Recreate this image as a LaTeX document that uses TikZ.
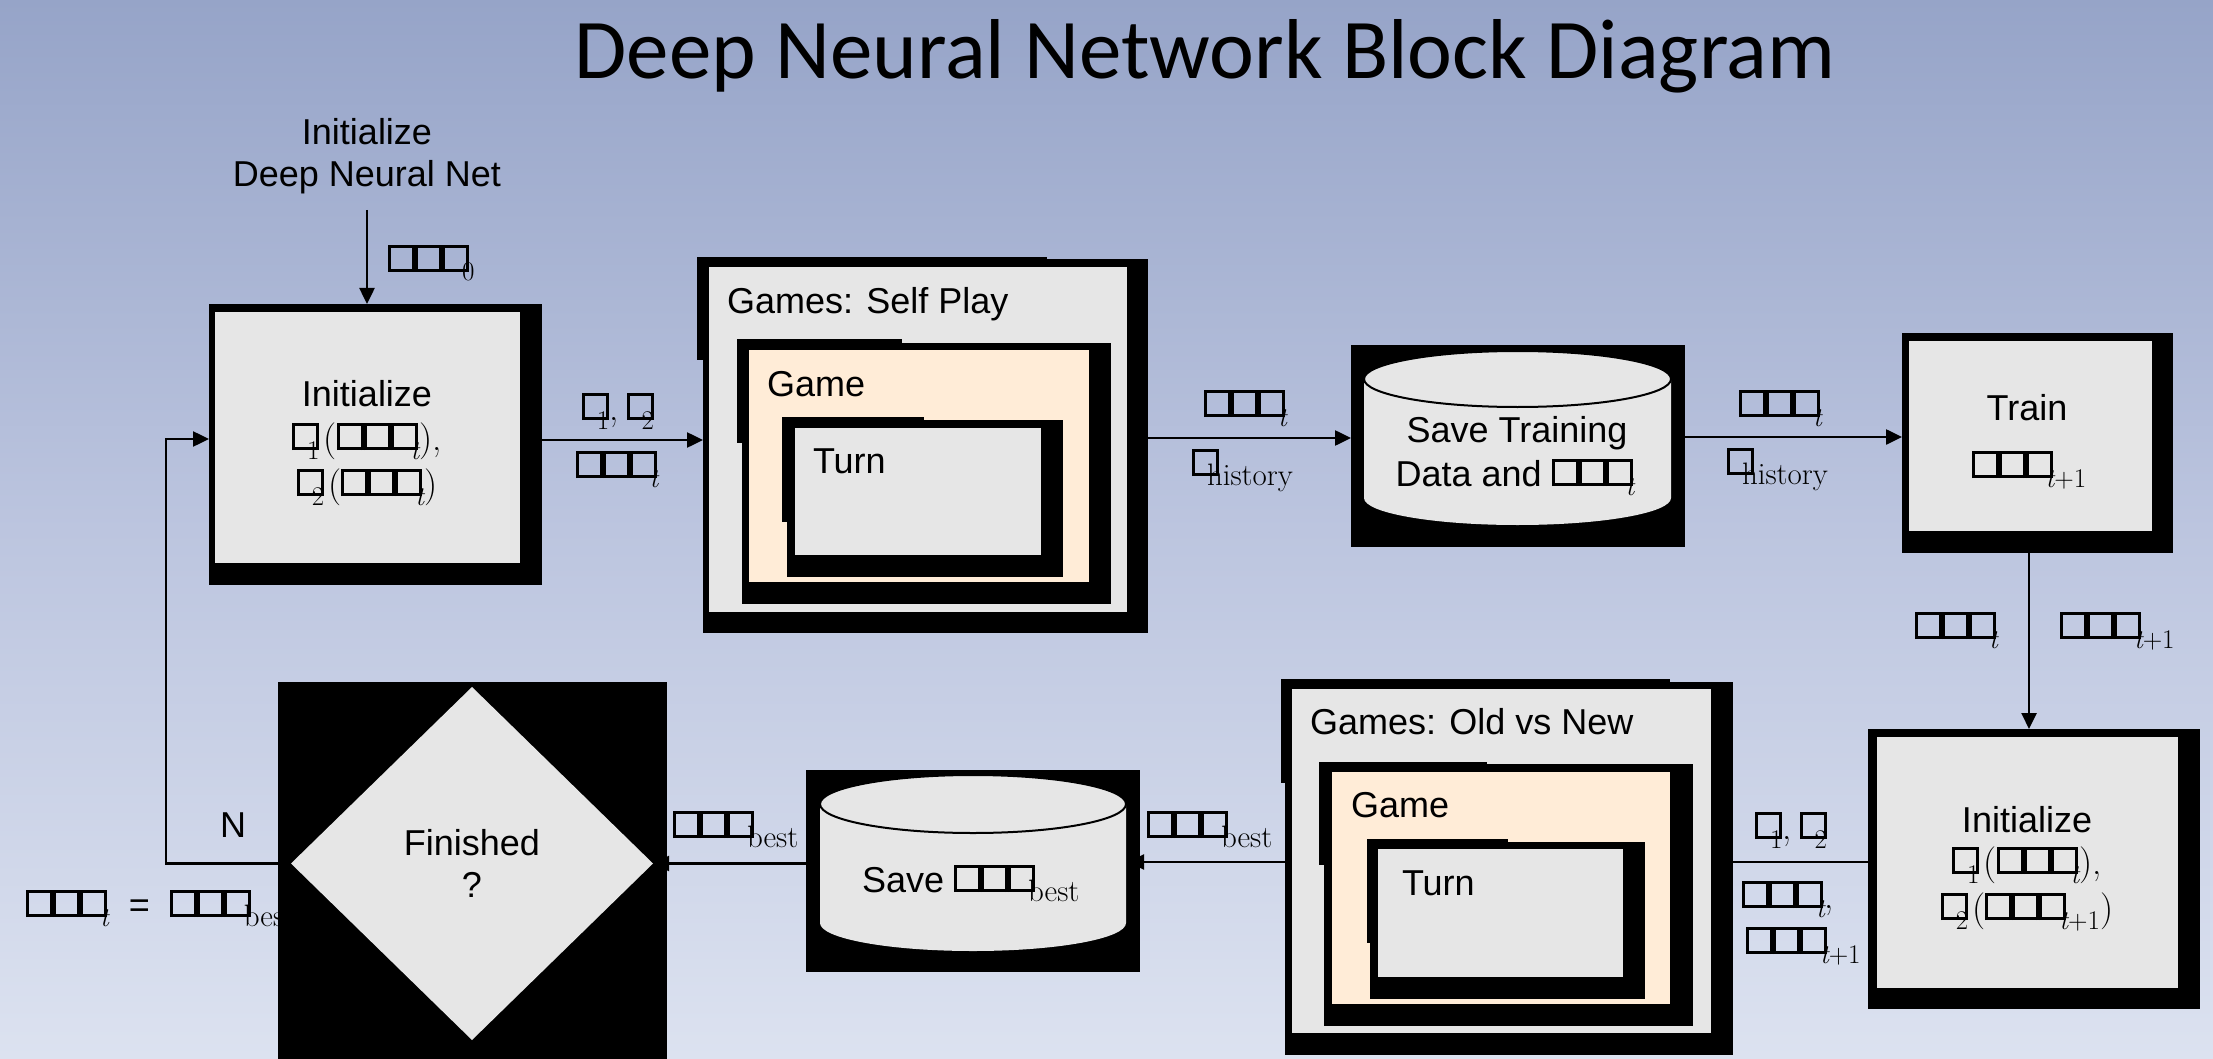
\documentclass[tikz,border=0pt]{standalone}
\usepackage{fontspec}
\usetikzlibrary{arrows.meta,shapes.geometric}
\newfontfamily\bodyfont{Liberation Sans}
\newfontfamily\titlefont{Carlito}
\definecolor{bgtop}{RGB}{150,164,200}
\definecolor{bgmid}{RGB}{188,197,223}
\definecolor{bgbot}{RGB}{220,226,240}
\definecolor{boxgray}{RGB}{230,230,230}
\definecolor{peach}{RGB}{255,236,215}

% empty glyph boxes and their subscripts
\newcommand\tfbox{\hbox{\vrule width 3pt\vbox{\hrule height 3pt\hbox to 21pt{\vrule width 0pt height 21pt\hfil}\hrule height 3pt}\vrule width 3pt}}
\newcommand\tfrow{\tfbox\tfbox\tfbox}
\newcommand\subx[2][-9pt]{\kern#1\raisebox{-9pt}{\rmfamily\fontsize{27}{28}\selectfont #2}}
\newcommand\wsub[2][-9pt]{\kern#1\raisebox{-9pt}{\rmfamily\fontsize{31}{32}\selectfont #2}}
\newcommand\tsub{\subx[-7pt]{\itshape t}}
\newcommand\tpsub{\subx[-7pt]{\itshape t\upshape +1}}
\newcommand\serifpart[1]{{\rmfamily\fontsize{37}{40}\selectfont #1}}

% filled rectangle node from corner coordinates
\newcommand\blocknode[6]{\node[fill=#6, inner sep=0pt, outer sep=0pt,
  minimum width={(#4)-(#2)}, minimum height={(#5)-(#3)}] (#1)
  at ({((#2)+(#4))/2},{((#3)+(#5))/2}) {};}

\tikzset{
  lbl/.style={font=\bodyfont\fontsize{36}{40}\selectfont, inner sep=0pt, outer sep=0pt, anchor=base},
  lblw/.style={lbl, anchor=base west},
  arr/.style={line width=2.5pt, -{Triangle[length=16pt,width=15pt]}},
  rim/.style={line width=2pt, draw=black},
}

\begin{document}
\begin{tikzpicture}[x=1pt,y=-1pt]
% background
\shade[top color=bgtop, bottom color=bgbot, middle color=bgmid] (0,0) rectangle (2213,1059);
\useasboundingbox (0,0) rectangle (2213,1059);

% title
\node[font=\titlefont\fontsize{85}{90}\selectfont, inner sep=0pt, anchor=base] (title) at (1205,79) {Deep Neural Network Block Diagram};

% starting label
\node[lbl] (initA) at (367,145) {Initialize};
\node[lbl] (initB) at (367,187) {Deep Neural Net};
\coordinate (initsrc) at (367,210);
\node[lblw] (lab0) at (388,272) {\tfrow\subx[-7pt]{0}};

% equality label, partly hidden by the decision block
\node[lblw] (labeq) at (26,917) {\tfrow\tsub\ \ =\ \ \tfrow\wsub[-7pt]{best}};

% ---- initialize block (top left)
\blocknode{b1}{209}{304}{542}{585}{black}
\fill[boxgray] (215,312) rectangle (520,563);
\node[lbl] (b1a) at (367,406) {Initialize};
\node[lbl] (b1b) at (367,450) {\tfbox\subx[-12pt]{1}\kern4pt\serifpart{(}\tfrow\tsub\serifpart{),}};
\node[lbl] (b1c) at (367,496) {\tfbox\subx[-12pt]{2}\kern4pt\serifpart{(}\tfrow\tsub\serifpart{)}};

% ---- games: self play
\fill (697,257) rectangle (1047,360);
\blocknode{g1}{703}{259}{1148}{633}{black}
\fill[boxgray] (709,267) rectangle (1127,612);
\fill (737,339) rectangle (902,443);
\blocknode{g1game}{742}{343}{1111}{604}{black}
\fill[peach] (749,350) rectangle (1089,582);
\fill (782,417) rectangle (924,522);
\blocknode{g1turn}{787}{420}{1063}{577}{black}
\fill[boxgray] (795,428) rectangle (1041,555);
\node[lblw] (g1t) at (727,313) {Games: Self Play};
\node[lblw] (g1gt) at (767,396) {Game};
\node[lblw] (g1tt) at (813,473) {Turn};

% ---- save training data
\blocknode{c1}{1351}{345}{1685}{547}{black}
\fill[boxgray] (1364,379) -- (1364,498)
  arc[start angle=180, end angle=360, x radius=153.5pt, y radius=27pt]
  -- (1671,379)
  arc[start angle=0, end angle=180, x radius=153.5pt, y radius=28pt] -- cycle;
\draw[rim] (1517.5,379) ellipse [x radius=153.5pt, y radius=28pt];
\node[lbl] (c1a) at (1517,442) {Save Training};
\node[lbl] (c1b) at (1515,486) {Data and \tfrow\tsub};

% ---- train
\blocknode{tr}{1902}{333}{2173}{553}{black}
\fill[boxgray] (1909,341) rectangle (2152,531);
\node[lbl] (tra) at (2027,420) {Train};
\node[lbl] (trb) at (2029,478) {\tfrow\tpsub};

% ---- initialize block (bottom right)
\blocknode{i2}{1868}{729}{2200}{1009}{black}
\fill[boxgray] (1877,737) rectangle (2178,988);
\node[lbl] (i2a) at (2027,832) {Initialize};
\node[lbl] (i2b) at (2027,874) {\tfbox\subx[-12pt]{1}\kern4pt\serifpart{(}\tfrow\tsub\serifpart{),}};
\node[lbl] (i2c) at (2027,920) {\tfbox\subx[-12pt]{2}\kern4pt\serifpart{(}\tfrow\tpsub\serifpart{)}};

% ---- games: old vs new
\fill (1281,679) rectangle (1670,783);
\blocknode{g2}{1285}{682}{1733}{1055}{black}
\fill[boxgray] (1292,689) rectangle (1711,1033);
\fill (1319,762) rectangle (1487,865);
\blocknode{g2game}{1324}{764}{1693}{1026}{black}
\fill[peach] (1332,772) rectangle (1670,1004);
\fill (1367,839) rectangle (1508,943);
\blocknode{g2turn}{1370}{842}{1645}{999}{black}
\fill[boxgray] (1378,849) rectangle (1623,977);
\node[lblw] (g2t) at (1310,734) {Games: Old vs New};
\node[lblw] (g2gt) at (1351,817) {Game};
\node[lblw] (g2tt) at (1402,895) {Turn};

% ---- save best
\blocknode{c2}{806}{770}{1140}{972}{black}
\fill[boxgray] (820,804) -- (820,923)
  arc[start angle=180, end angle=360, x radius=153pt, y radius=28pt]
  -- (1126,804)
  arc[start angle=0, end angle=180, x radius=153pt, y radius=29pt] -- cycle;
\draw[rim] (973,804) ellipse [x radius=153pt, y radius=29pt];
\node[lblw] (c2a) at (862,892) {Save \tfrow\wsub[-7pt]{best}};

% ---- decision
\blocknode{dbox}{278}{682}{667}{1062}{black}
\node[diamond, fill=boxgray, inner sep=0pt, outer sep=0pt, minimum width=362pt, minimum height=353pt] (dia) at (472,863.5) {};
\node[lbl] (diaa) at (472,855) {Finished};
\node[lbl] (diab) at (472,897) {?};

% ---- connectors
\draw[arr] (initsrc) -- (initsrc |- b1.north);
\draw[arr] (b1.east |- 0,440) -- (g1.west |- 0,440);
\node[lbl] (l1a) at (618,420) {\tfbox\subx[-12pt]{1}\serifpart{,}\kern8pt\tfbox\subx[-12pt]{2}};
\node[lbl] (l1b) at (617,478) {\tfrow\tsub};

\draw[arr] (g1.east |- 0,438) -- (c1.west |- 0,438);
\node[lblw] (l2a) at (1204,417) {\tfrow\tsub};
\node[lblw] (l2b) at (1192,476) {\tfbox\wsub[-12pt]{history}};

\draw[arr] (c1.east |- 0,437) -- (tr.west |- 0,437);
\node[lblw] (l3a) at (1739,417) {\tfrow\tsub};
\node[lblw] (l3b) at (1727,475) {\tfbox\wsub[-12pt]{history}};

\draw[arr] (2029,0 |- tr.south) -- (2029,0 |- i2.north);
\node[lblw] (l4a) at (1915,639) {\tfrow\tsub};
\node[lblw] (l4b) at (2060,639) {\tfrow\tpsub};

% these two tips sit inside the black frame of their target
\draw[arr, shorten >=-22pt] (i2.west |- 0,862) -- (g2.east |- 0,862);
\node[lblw] (l5a) at (1755,839) {\tfbox\subx[-12pt]{1}\serifpart{,}\kern8pt\tfbox\subx[-12pt]{2}};
\node[lblw] (l5b) at (1742,908) {\tfrow\tsub\serifpart{,}};
\node[lblw] (l5c) at (1746,954) {\tfrow\tpsub};

\draw[arr, shorten >=-12pt] (g2.west |- 0,862) -- (c2.east |- 0,862);
\node[lblw] (l6) at (1147,838) {\tfrow\wsub[-7pt]{best}};

\draw[arr] (c2.west |- dia.east) -- (dia.east);
\node[lblw] (l7) at (673,838) {\tfrow\wsub[-7pt]{best}};

\coordinate (loopc) at (166,439);
\draw[arr] (dia.west) -| (loopc) -- (b1.west |- loopc);
\node[lbl] (nlab) at (233,837) {N};
\end{tikzpicture}
\end{document}
